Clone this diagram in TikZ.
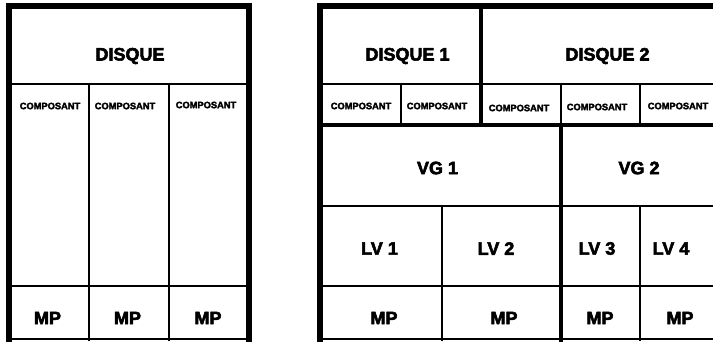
\documentclass[tikz,border=0pt]{standalone}
\usepackage{fontspec}
\newfontfamily\hv{Liberation Sans}[FakeBold=3]
\tikzset{
  big/.style={font=\hv\bfseries\fontsize{18}{18}\selectfont, inner sep=0pt},
  small/.style={font=\hv\bfseries\fontsize{9.3}{10}\selectfont, inner sep=0pt},
  thin/.style={line width=2pt},
  thick4/.style={line width=4.5pt},
  outer/.style={line width=6pt, line join=miter},
}
\begin{document}
\begin{tikzpicture}[x=1pt,y=-1pt]
\useasboundingbox (0,0) rectangle (713,341);
\clip (0,0) rectangle (713,341);
\fill[white] (0,0) rectangle (713,341);
% ---------- left panel ----------
\draw[thin] (9,84) -- (248.5,84);
\draw[thin] (89,84) -- (89,341);
\draw[thin] (169,84) -- (169,341);
\draw[thin] (9,286) -- (248.5,286);
\draw[line width=1.5pt] (9,339) -- (248.5,339);
\draw[outer] (9,345) -- (9,6) -- (248.5,6) -- (248.5,345);
\node[big] (disque) at (130,56) {DISQUE};
\node[small] (lc1) at (50,106) {COMPOSANT};
\node[small] (lc2) at (125,106) {COMPOSANT};
\node[small] (lc3) at (206,105) {COMPOSANT};
\node[big] (lmp1) at (47.5,318) {MP};
\node[big] (lmp2) at (127.5,318) {MP};
\node[big] (lmp3) at (208,318) {MP};
% ---------- right panel ----------
\draw[thin] (320,84) -- (720,84);
\draw[thin] (401,84) -- (401,125);
\draw[thin] (561,84) -- (561,125);
\draw[thin] (640,84) -- (640,125);
\draw[thin] (320,206) -- (720,206);
\draw[thin] (442,206) -- (442,341);
\draw[thin] (640,206) -- (640,341);
\draw[thin] (320,286) -- (720,286);
\draw[line width=1.5pt] (320,339) -- (720,339);
\draw[thick4] (481,6) -- (481,125);
\draw[thick4] (320,125) -- (720,125);
\draw[thick4] (561,125) -- (561,345);
\draw[outer] (320,345) -- (320,6) -- (720,6);
\node[big] (d1) at (407.5,56) {DISQUE 1};
\node[big] (d2) at (607.5,56) {DISQUE 2};
\node[small] (rc1) at (361,106) {COMPOSANT};
\node[small] (rc2) at (437,106) {COMPOSANT};
\node[small] (rc3) at (519,108) {COMPOSANT};
\node[small] (rc4) at (597,107) {COMPOSANT};
\node[small] (rc5) at (678,106) {COMPOSANT};
\node[big] (vg1) at (437.5,168) {VG 1};
\node[big] (vg2) at (639,168) {VG 2};
\node[big] (lv1) at (379.5,248.5) {LV 1};
\node[big] (lv2) at (496,248.5) {LV 2};
\node[big] (lv3) at (597,248.5) {LV 3};
\node[big] (lv4) at (671,248.5) {LV 4};
\node[big] (rmp1) at (384,318) {MP};
\node[big] (rmp2) at (504,318) {MP};
\node[big] (rmp3) at (600,318) {MP};
\node[big] (rmp4) at (680,318) {MP};
\end{tikzpicture}
\end{document}
